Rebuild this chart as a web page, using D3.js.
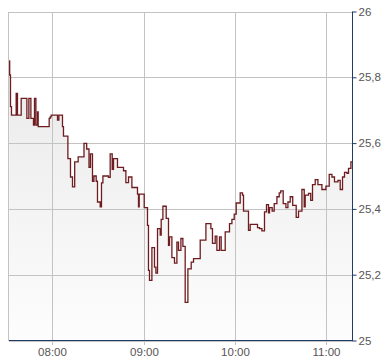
<!DOCTYPE html>
<html><head><meta charset="utf-8">
<script src="https://cdn.jsdelivr.net/npm/d3@7/dist/d3.min.js"></script>
<style>body{margin:0;background:#fff}svg{display:block}</style>
</head><body>
<svg id="chart" width="390" height="364"></svg>
<script>
const times = ["07:31:27","07:31:47","07:32:19","07:32:58","07:36:04","07:36:55","07:39:22","07:43:07","07:44:26","07:45:46",
"07:47:28","07:48:08","07:49:04","07:50:07","07:50:34","07:57:49","07:58:29","07:59:09","08:03:18","08:04:13",
"08:06:35","08:07:15","08:10:09","08:11:52","08:13:11","08:14:38","08:16:56","08:20:46","08:22:33","08:24:04",
"08:25:03","08:26:22","08:27:18","08:28:49","08:29:40","08:31:27","08:32:18","08:33:14","08:36:55","08:38:02",
"08:39:22","08:40:13","08:42:51","08:46:49","08:48:23","08:50:07","08:52:21","08:56:02","08:56:42","08:57:10",
"09:00:28","09:02:38","09:03:17","09:03:57","09:05:32","09:07:15","09:08:10","09:09:14","09:11:01","09:11:40",
"09:12:47","09:14:58","09:16:29","09:17:08","09:18:43","09:20:26","09:22:01","09:23:04","09:24:39","09:25:58",
"09:27:29","09:29:16","09:31:27","09:32:58","09:37:23","09:41:08","09:44:26","09:45:29","09:47:16","09:48:23",
"09:50:06","09:51:13","09:53:52","09:56:42","09:58:17","09:59:48","10:01:07","10:03:45","10:05:16","10:05:56",
"10:09:13","10:10:20","10:15:10","10:16:29","10:18:04","10:19:46","10:21:05","10:22:25","10:23:04","10:24:51",
"10:26:10","10:27:57","10:29:28","10:30:27","10:32:06","10:33:53","10:35:12","10:36:43","10:38:22","10:40:40",
"10:42:11","10:44:26","10:45:57","10:46:36","10:48:47","10:50:14","10:51:25","10:53:12","10:54:59","10:57:37",
"11:00:15","11:02:26","11:04:13","11:05:55","11:08:10","11:09:41","11:11:12","11:12:31","11:14:06","11:15:09",
"11:16:44"];
const prices = [25.850,25.807,25.711,25.685,25.751,25.685,25.736,25.675,25.736,25.675,
25.655,25.736,25.655,25.695,25.650,25.675,25.680,25.685,25.670,25.685,
25.650,25.621,25.553,25.497,25.467,25.543,25.558,25.599,25.582,25.526,
25.567,25.484,25.500,25.484,25.421,25.406,25.479,25.500,25.496,25.567,
25.520,25.553,25.526,25.516,25.480,25.497,25.465,25.445,25.406,25.445,
25.404,25.350,25.213,25.183,25.282,25.223,25.205,25.340,25.320,25.368,
25.408,25.371,25.289,25.315,25.252,25.235,25.299,25.274,25.310,25.286,
25.116,25.218,25.238,25.249,25.305,25.355,25.340,25.295,25.317,25.274,
25.315,25.274,25.330,25.355,25.368,25.384,25.418,25.449,25.442,25.393,
25.335,25.353,25.343,25.340,25.333,25.391,25.413,25.388,25.404,25.393,
25.416,25.437,25.449,25.455,25.416,25.404,25.421,25.437,25.411,25.374,
25.393,25.459,25.406,25.442,25.447,25.426,25.474,25.489,25.474,25.459,
25.469,25.505,25.497,25.482,25.487,25.459,25.497,25.511,25.508,25.523,
25.543];
const sessionStart = "07:31:00";
const sessionEnd = "11:17:47";
const yTicks = [25, 25.2, 25.4, 25.6, 25.8, 26];
const xTicks = ["08:00", "09:00", "10:00", "11:00"];

const parse = d3.timeParse("%H:%M:%S");
const parseHM = d3.timeParse("%H:%M");
const fmtY = v => d3.format(".1f")(v).replace(".", ",").replace(",0", "");

const data = times.map((t, i) => ({t: parse(t), v: prices[i]}));
data.push({t: parse(sessionEnd), v: prices[prices.length - 1]});

const L = 8.5, R = 352.5, T = 11.5, B = 340.5;
const x = d3.scaleTime().domain([parse(sessionStart), parse(sessionEnd)]).range([L, R]);
const y = d3.scaleLinear().domain([25, 26]).range([B, T]);

const svg = d3.select("#chart");
const defs = svg.append("defs");
const grad = defs.append("linearGradient").attr("id", "fillg")
  .attr("gradientUnits", "userSpaceOnUse").attr("x1", 0).attr("x2", 0).attr("y1", T).attr("y2", B);
grad.append("stop").attr("offset", "0%").attr("stop-color", "#e6e6e6");
grad.append("stop").attr("offset", "100%").attr("stop-color", "#fdfdfd");

// area
const area = d3.area().curve(d3.curveStepAfter).x(d => x(d.t)).y0(B).y1(d => y(d.v));
svg.append("path").datum(data).attr("d", area).attr("fill", "url(#fillg)");

// grid
const grid = svg.append("g").attr("stroke", "#c3c3c3").attr("stroke-width", 1).attr("shape-rendering", "crispEdges");
yTicks.forEach(v => grid.append("line").attr("x1", L).attr("x2", R).attr("y1", Math.round(y(v)) + 0.5).attr("y2", Math.round(y(v)) + 0.5));
xTicks.forEach(s => {
  const px = Math.round(x(parseHM(s))) + 0.5;
  grid.append("line").attr("x1", px).attr("x2", px).attr("y1", T).attr("y2", B + 4);
});
grid.append("line").attr("x1", L).attr("x2", L).attr("y1", T).attr("y2", B);

// line
const line = d3.line().curve(d3.curveStepAfter).x(d => x(d.t)).y(d => y(d.v));
svg.append("path").datum(data).attr("d", line).attr("fill", "none")
  .attr("stroke", "#6e1c1f").attr("stroke-width", 1.3);

// axes
const axisColor = "#1f3b68";
svg.append("line").attr("x1", L).attr("x2", R).attr("y1", B).attr("y2", B)
  .attr("stroke", axisColor).attr("stroke-width", 1).attr("shape-rendering", "crispEdges");
const yAxis = d3.axisRight(y).tickValues(yTicks).tickFormat(fmtY).tickSize(4).tickPadding(2);
const gy = svg.append("g").attr("transform", `translate(${R},0)`).call(yAxis);
gy.select(".domain").attr("stroke", axisColor).attr("d", `M0,${T}V${B}`);
gy.selectAll(".tick line").attr("stroke", axisColor);
gy.selectAll("text").attr("fill", "#555").style("font-family", "'Liberation Sans', Arial, sans-serif").style("font-size", "11.5px");

const gx = svg.append("g");
xTicks.forEach(s => {
  gx.append("text").attr("x", Math.round(x(parseHM(s))) + 0.5).attr("y", B + 15)
    .attr("text-anchor", "middle").attr("fill", "#555")
    .style("font-family", "'Liberation Sans', Arial, sans-serif").style("font-size", "11.5px").text(s);
});
</script>
</body></html>
